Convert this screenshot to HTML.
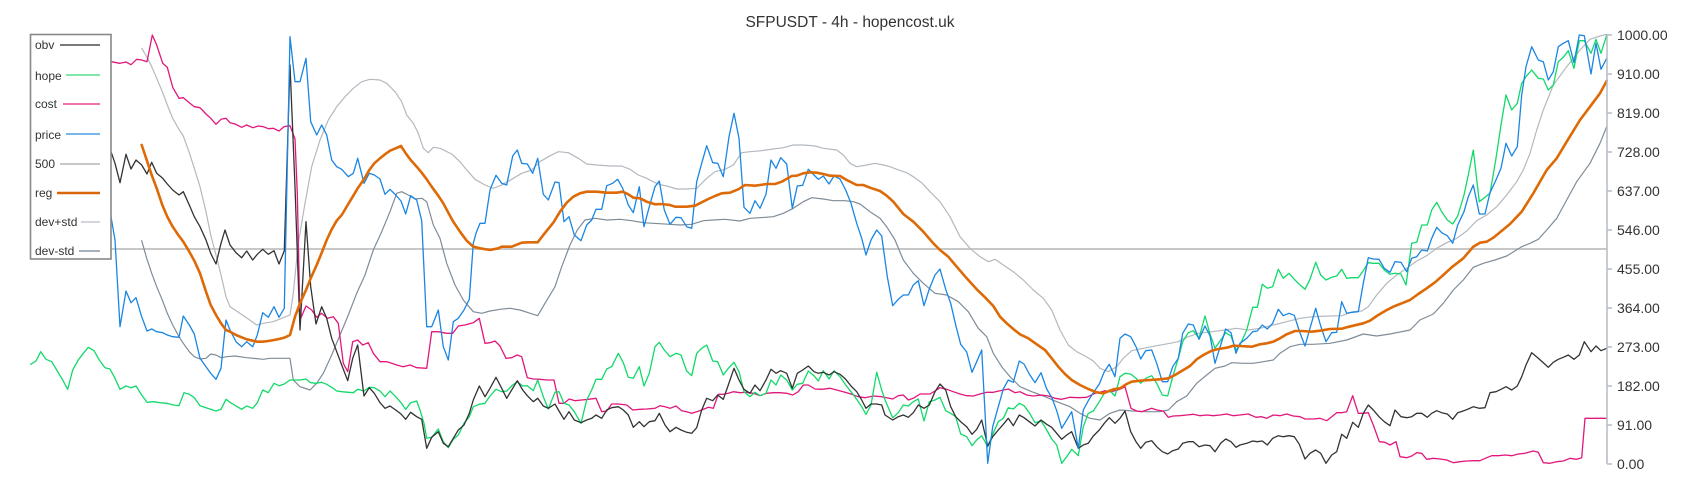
<!DOCTYPE html>
<html><head><meta charset="utf-8"><style>
html,body{margin:0;padding:0;background:#fff;}
svg{display:block;font-family:"Liberation Sans",Arial,sans-serif;}
</style></head><body>
<svg width="1700" height="500" viewBox="0 0 1700 500" xmlns="http://www.w3.org/2000/svg">
<rect width="1700" height="500" fill="#fff"/>
<text x="850" y="27" font-size="15.5" fill="#333" text-anchor="middle">SFPUSDT - 4h - hopencost.uk</text>

<!-- 500 line -->
<line x1="30" y1="249" x2="1607" y2="249" stroke="#c8c8c8" stroke-width="2"/>

<g fill="none" stroke-linejoin="round" stroke-linecap="round">
<!-- dev+std -->
<polyline stroke="#b3b9bf" stroke-width="1.2" points="141.7,48.3 146.7,56.7 151.7,66.7 156.7,78.3 162.3,91.7 167.3,105 172.7,118.3 178.3,128.3 183.3,136 189.3,152.7 194.3,168.3 200,186.7 206,211.7 210.7,235 216,255 221,275 226,296.7 230,306.7 235,310 245,316.7 256.7,325 263.3,323.3 273.3,321.7 281.7,318.3 290,315 293.3,293.3 298.3,243.3 305,203.3 311.7,166.7 320,140 328.3,120 336.7,106.7 345,96.7 353.3,88.3 361.7,81.7 370,79.3 380,80 386.7,83.3 395,91.7 401.7,101.7 406.7,115 413.3,123.3 418.3,133.3 423.3,148.3 428.3,152.7 433.3,147.3 440,148.3 451.7,154 460,161.7 466.7,170 475,179.3 485,185 493.3,188.3 501.7,185 511.7,179.3 521.7,173.3 531.7,170 540,161.7 548.3,156.7 558.3,151.7 568.3,152.7 578.3,158.3 586.7,164 596.7,165 610,166 621.7,166 630,169.3 638.3,175 646.7,178.3 655,182.7 661.7,185 666.7,186 676.7,189 686.7,189 696.7,188.3 706.7,178.3 715,171.7 725,169.3 733.3,165 741.7,152.7 750,151.7 761.7,150.7 773.3,149 783.3,147.7 793.3,145 803.3,145 815,146 823.3,148.3 836.7,150 843.3,155 850,163.3 856.7,166.7 866.7,165 875,163.3 883.3,165 890,166.7 896.7,169.3 906.7,172.7 913.3,176.7 921.7,182.7 930,191.7 940,201.7 950,216.7 960,236.7 970,248.3 980,256.7 988.3,261.7 995,259.3 1003.3,265 1013.3,271.7 1023.3,280 1033.3,290 1043.3,298.3 1051.7,310 1060,330 1068.3,345 1076.7,351.7 1085,356 1093.3,361 1100,368.3 1108.3,371.7 1116.7,366.7 1123.3,358.3 1131.7,350.7 1143.3,348.3 1156.7,345.7 1170,343.3 1178.3,341.7 1186.7,337.3 1198.3,333.3 1211.7,331.7 1225,330 1236.7,328.3 1248.3,330 1260,328.3 1273.3,325 1286.7,321.7 1300,318.3 1313.3,316.7 1330,316 1341.7,315.7 1353.3,311.7 1361.7,311 1368.3,306.7 1376.7,295 1386.7,283.3 1396.7,275 1406.7,268.3 1416.7,261 1426.7,255.7 1436.7,248.3 1446.7,242.7 1456.7,238.3 1466.7,231 1476.7,220.7 1486.7,215 1496.7,206.7 1506.7,195 1516.7,181.7 1523.3,170 1530,153.3 1536.7,130 1543.3,110 1553.3,85 1566.7,66.7 1580,50 1590,39.3 1600,36 1606.7,34.3"/>
<!-- dev-std -->
<polyline stroke="#7f8c98" stroke-width="1.2" points="141.7,240.7 146.7,258.3 151.7,273.3 156.7,286.7 162.3,300 167.3,313.3 172.7,325 179,336.7 183.3,343.3 189.3,351.7 194.3,356.7 200,359 206,358.3 210.7,354 216,355 221,357.7 226.7,356.7 235,356 246.7,357.7 263.3,359.3 270,358.3 290,358.3 293.3,380 300,386.7 310,390 316.7,383.3 323.3,373.3 331.7,355 340,335 348.3,315 356.7,293.3 365,275 373.3,250 381.7,231.7 390,211.7 396.7,193.3 401.7,191.7 408.3,195 415,199 421.7,198.3 426.7,201.7 433.3,225 440,238.3 446.7,263.3 455,285 463.3,300 473.3,311.7 481.7,313.3 490,311 500,309.3 510,308.3 520,310 528.3,312.7 537.7,315.7 545,303.3 555,286.7 561.7,266.7 570,245 577.3,230 585,220 595,218.3 606.7,220 620,219.3 631.7,220.7 643.3,222.7 653.3,223.3 670,224.3 680,225 691.7,224.3 703.3,220.7 713.3,220 725,219.3 740,221 750,218.3 760,217.7 773.3,216.7 783.3,213.3 793.3,208.3 803.3,201.7 811.7,197.7 823.3,199 833.3,200.7 845,200.7 853.3,201.7 860,204 870,211.7 880,218.3 886.7,226.7 895,240 903.3,260 913.3,273.3 923.3,283.3 935,293.3 946.7,295 958.3,301.7 968.3,311.7 978.3,328.3 986.7,336.7 993.3,353.3 1001.7,366.7 1010,376.7 1020,386.7 1031.7,391.7 1043.3,396 1056.7,401.7 1070,406.7 1080,413.3 1090,418.3 1100,420 1110,413.3 1120,410 1133.3,411 1146.7,411.7 1160,411.7 1168.3,410 1176.7,401.7 1186.7,396 1196.7,383.3 1206.7,375 1215,368.3 1225,366 1231.7,362.7 1243.3,363.3 1253.3,363.3 1263.3,361.7 1273.3,360 1280,353.3 1290,346.7 1300,344.3 1313.3,344.3 1330,343.3 1346.7,340 1363.3,334 1376.7,336 1390,334 1410,330 1420,320 1433.3,314 1443.3,303.3 1453.3,290 1463.3,280 1473.3,267.3 1483.3,263.3 1495,260 1506.7,256 1521.7,246.7 1530,243.3 1538.3,239.3 1546.7,230 1556.7,218.3 1566.7,200 1576.7,181.7 1590,163.3 1600,143.3 1606.7,126.7"/>
<!-- cost -->
<polyline stroke="#e2177c" stroke-width="1.3" points="100,62 111,61.7 120,63.3 126,62 131,64.7 136.7,59.3 141.7,60 147,61.7 152.3,35 156.7,45 162.7,63.3 167.3,67.3 172.7,87.3 179,98.3 183.3,97.7 189.3,102.7 194.3,106.7 200,107.7 206,114 210.7,118.3 216,124.3 221,119.3 226,118.3 230,122.7 235,124 241.7,127.3 246.7,125 252.7,127.7 258.3,126 263.3,126.7 268.3,128.7 273.3,128.3 279,131 284,126.7 290,125.7 295,139 297.3,193.3 300,320 306,306 311.7,310 316.7,317.3 321.7,313.3 327.3,318.3 333.3,316.7 338.3,323.3 343.3,363.3 347.7,371.7 352.7,341.7 357.7,340 362.7,345 368.3,342.7 373.3,353.3 380,361.7 386.7,361.7 391.7,363.3 396.7,365 403.3,366.7 410,365 416.7,367.7 426.7,368.3 431.7,331.7 438.3,331.7 446.7,333.3 452.7,333.3 458.3,326 465,325 473.3,322.7 479.3,318.3 485,343.3 490,342.7 495,341 500,346 506,358.3 511.7,357.7 517.3,355 521.7,356.7 527.3,377.7 533.3,379 540,379.3 546.7,380 554,380 559,403.3 564,403.3 569.3,399 575,400.7 581.7,400 588.3,399.3 596,398.3 601.7,411.7 606.7,411 611.7,404 618.3,404 626.7,405 632.7,410 640,409.3 646.7,409 655,408.3 660,405.7 665,406.7 670,408.3 676,406 681.7,410.7 686.7,411.7 691.7,413.3 696.7,411.7 701.7,410 708.3,407.3 713.3,408.3 718.3,394.3 723.3,394.3 728.3,393.3 733.3,391.7 740,392.7 746.7,392.3 753.3,393.3 760,395.7 766.7,393.3 773.3,392.7 780,392.7 786.7,393.3 792.7,395 798.3,391.7 803.3,385 808.3,385 815,389 821.7,389.3 830,388.3 836.7,390 843.3,391.7 851.7,394.3 858.3,396.7 865,397.7 873.3,396 881.7,396.7 886.7,397.7 892.7,399 898.3,395.7 903.3,395 908.3,400 913.3,398.3 920,394 930,394 935,391 940,387.7 946.7,389.3 953.3,391.7 960,394 966.7,395.7 973.3,396 980,394 986.7,392.3 993.3,392.3 1000,390.7 1008.3,389 1015,392.7 1020,391.7 1026.7,395 1033.3,396 1041.7,395 1048.3,396 1055,398.3 1061.7,399.3 1070,397.3 1078.3,397.7 1086.7,397.3 1095,393.3 1101.7,391.7 1105,390.7 1110,391.7 1115,390.7 1120,389.3 1125,386.7 1131,408.3 1136.7,411 1141.7,411.7 1146.7,410 1151.7,408.3 1156.7,410 1163.3,411 1168.3,417.3 1173.3,416 1180,415.7 1186.7,415 1193.3,414.3 1200,415.7 1206.7,415 1213.3,415.7 1220,415 1226.7,414 1233.3,415.7 1240,415 1248.3,414 1256,417.3 1261.7,416.7 1266.7,418.3 1273.3,415 1280,415.7 1286.7,414 1293.3,416 1300,416.7 1305,419 1313.3,419 1320,418.3 1326.7,420.7 1331.7,416.7 1336.7,412.7 1341.7,412.7 1346.7,411.7 1352.7,395.7 1358.3,413.3 1363.3,413.3 1368.3,412.7 1373.3,425 1379.3,441.7 1385,442.3 1390,445 1396,441.7 1400,456.7 1406.7,457.7 1411.7,456 1416.7,452.7 1421.7,453.3 1426.7,459.3 1433.3,458.3 1440,459 1446.7,460 1453.3,462.7 1460,461.7 1466.7,461 1473.3,460.7 1480,460.7 1486.7,457.7 1491.7,455.7 1498.3,455.7 1505,455 1511.7,455.7 1518.3,454 1525,453.3 1533.3,451 1538.3,452.3 1543.3,462.7 1550,463.3 1556.7,461.7 1563.3,461 1570,458.3 1576.7,459.3 1581.7,457.7 1585,418.3 1606.7,418.3"/>
<!-- hope -->
<polyline stroke="#12d96a" stroke-width="1.3" points="30.7,364.3 36,361 40.7,351.7 46,359.3 51.7,361.7 56.7,370 62.3,379.3 67.7,389.3 72.7,370 78.3,360 83.3,353.3 88.3,347.3 94,350.7 99.3,360 105,367.7 110,369 115,378.3 120,389.3 126,386 131,387.7 136,386 141.7,395 147,402.3 153.3,401.7 160,402.7 166.7,403.3 173.3,405 179,405.7 184,392.7 189.3,394.3 194.3,397.7 200,405.7 206,407.7 210.7,409.3 216,411 221,409.3 226,399.3 230,402.3 236,406 241.7,409.3 246.7,406 252.7,408.3 257.3,402.7 262.7,390 268.3,392.7 274,383.3 279,385.7 284.3,384 290,380 295,380 300,380 306,379 310.7,382.7 316.7,383.3 321.7,382.3 326.7,384.3 331.7,387.3 336.7,391 341.7,391.7 348.3,392.3 353.3,392.7 357.7,389.3 364,391 369.3,387.3 374.3,387.7 380,391 385,396.7 390,391 395.7,396.7 401,402.7 405.7,409.3 410.7,402.7 416.7,401 420,410 424,423.3 426.7,438.3 431.7,437.3 438.3,429 443.3,441.7 448.3,447.7 453.3,439.3 458.3,435 464,423.3 469.3,416.7 473.3,406.7 479.3,404.3 485,403.3 490,396 496,389.3 501.7,391.7 506.7,391 512.7,385 517.3,381.7 522.7,386 527.3,385.7 533.3,390.7 537.7,380 543.3,396.7 548.3,409 555,392.3 559,391.7 564,403.3 569,405 574.3,411.7 581,423.3 586.7,400 591.7,390 596,379.3 601.7,379.3 606.7,369 611.7,366.7 618.3,353.3 623.3,362.7 628.3,377.3 633.3,378.3 639.3,366.7 644,386 649.3,373.3 655,346.7 659.3,342.3 664.3,350 670,356.7 676,353.3 681,355 686.7,371 691.7,375.7 696.7,353.3 701.7,348.3 706.7,345 712.7,361 717.7,361.7 723.3,375 728.3,368.3 734,362.3 739,371.7 744,391.7 750,396.7 755,392.3 760,395.7 766,393.3 771,380 776,385 780.7,375 786.7,380 792.3,390 797.3,384.3 802.7,383.3 808.3,371 814,375.7 818.3,381 823.3,370.7 829,379 834,370.7 840,376.7 845.7,385 851,391.7 856.7,399.3 861.7,406.7 866,414.3 871,405 876.7,372.3 881.7,390 885,400 892.7,417.7 898.3,412.7 903.3,405 908.3,406 913.3,401.7 918.3,399 924,421 929.3,401.7 935,400 940,397.3 945.7,410.7 950.7,413.3 955.7,416.7 960.7,434 966.7,436.7 972,445.7 976.7,440 981.7,435.7 987.7,446.7 992.7,434.3 998.3,421.7 1003.3,418.3 1008.3,407.7 1013.3,409 1019.3,403.3 1024,405.7 1029.3,412.7 1035,422.7 1041,420.7 1046.7,430 1051.7,439 1056.7,445 1061.7,463.3 1066.7,456.7 1071.7,449.3 1078.3,455.7 1083.3,426.7 1088.3,413.3 1093.3,411 1099.3,401.7 1104.3,393.3 1109.3,390 1115,396 1120,376.7 1125,373.3 1130.7,374 1136,378.3 1140.7,383.3 1145.7,378.3 1151.7,375.7 1156.7,383.3 1162.3,395 1167.7,396 1172.7,376.7 1178.3,358.3 1182.7,341.7 1188.3,332.7 1193.3,330.7 1199,338.3 1205,316 1210,334 1215,348.3 1220.7,340 1225.7,332.7 1231,336 1236,350 1240,345 1246.7,330 1252.7,307.3 1257.3,307.3 1262.3,284.3 1267.3,288.3 1272.7,286.7 1278.3,269.3 1283.3,278.3 1289,273.3 1294.3,279.3 1300,285 1305,289.3 1310,279.3 1315.7,262.3 1320.7,275 1326,280 1331.7,277.3 1336.7,276 1341.7,269.3 1346.7,278.3 1351.7,277.7 1358.3,277.7 1363.3,270.7 1368.3,262.7 1373.3,263.3 1379,263.3 1384.3,270 1390,274.3 1395,273.3 1401,274 1406,285 1411.7,243.3 1416.7,242.3 1421.7,225 1427.3,225 1431.7,210 1436.7,202.3 1441.7,211.7 1447.3,220 1452.7,224 1457.7,216 1464,195 1468.3,175 1473.3,150 1479.3,201.7 1485,197.3 1490,193.3 1496,158.3 1501,125 1506,95 1511.7,110 1517.3,103.3 1521.7,83.3 1526,76.7 1531.7,70 1538.3,78.3 1543.3,79 1548.3,90 1553.3,85 1558.3,61.7 1563.3,57.3 1568.3,50.7 1574,68.3 1579.3,40.7 1584.3,40.7 1591,53.3 1596,39.3 1601,53.3 1606.7,35"/>
<!-- obv -->
<polyline stroke="#333" stroke-width="1.3" points="100,140 108,145 111,151.7 115,163.3 120,182.7 126,154.3 131,169 136,160 141.7,165 147,174 151.7,162.3 156.7,173.3 162.7,178.3 167.3,184 172.7,190 179,195 183.3,191.7 189.3,205 194.3,216.7 200,226.7 206,240 210.7,253.3 216,264 221,243.3 225,230 230,245 236,252.7 241.7,257.7 246.7,251 252.7,260 257.3,254.3 262.7,249.3 268.3,254.3 274,250.7 279,264 284.3,250.7 290,65 295,186.7 300,330 306,221.7 310.7,286.7 316,324 321.7,306.7 326.7,318.3 331.7,338.3 336.7,351.7 341.7,365 347.7,380.7 352.7,358.3 357.7,345 364,396 369.3,387.7 374.3,393.3 380,402.7 385,408.3 390,406 395.7,410 401,414 405.7,419.3 410.7,412.3 416.7,416.7 421.7,419.3 426.7,448.3 431.7,437.3 438.3,431.7 443.3,443.3 448.3,446.7 453.3,438.3 458.3,430 464,425 469.3,413.3 473.3,400 479.3,386 485,396.7 490,388.3 496,377.3 501.7,388.3 506.7,398.3 512.7,388.3 517.3,380.7 522.7,390 527.3,395.7 533.3,401.7 537.7,398.3 543.3,406 548.3,408.3 555,404 559,411 564,419.3 569,411.7 574.3,420 581,422.7 586.7,420 591.7,418.3 596,415 601.7,418.3 606.7,410 611.7,407.7 618.3,406.7 623.3,410 628.3,415 633.3,427.3 639.3,421.7 644,426.7 649.3,421.7 655,420.7 659.3,413.3 665,425 670,431.7 676,427.3 681,430 686.7,432.3 691.7,433.3 696.7,427.7 701.7,410 706.7,398.3 712.7,400.7 717.7,395 723.3,399.3 728.3,385 734,368.3 739,380 744,389.3 750,393.3 755,385 760,390.7 766,380 771,369.3 776,373.3 780.7,370.7 786.7,373.3 792.3,388.3 797.3,373.3 802.7,370 808.3,366 814,371.7 818.3,373.3 823.3,372.3 829,375 834,371.7 840,374.3 845.7,379.3 851,386 856.7,391.7 861.7,400 866,408.3 871,404 876.7,404 881.7,405 885,415 892.7,420 898.3,416.7 903.3,415 908.3,417.3 913.3,412.7 918.3,405 924,408.3 929.3,405 935,391.7 940,384 945.7,390 950.7,406.7 955.7,416.7 960.7,421.7 966.7,426.7 972,434.3 976.7,429.3 981.7,420 987.7,446 992.7,436.7 998.3,430 1003.3,424.3 1008.3,418.3 1013.3,425.7 1019.3,415 1024,417.7 1029.3,421.7 1035,426 1041,420 1046.7,424.3 1051.7,427.3 1056.7,433.3 1061.7,439.3 1066.7,435 1071.7,431.7 1078.3,448.3 1083.3,445 1088.3,443.3 1093.3,436 1099.3,430 1104.3,423.3 1109.3,417.7 1115,423.3 1120,418.3 1125,411 1130.7,431.7 1136,441.7 1140.7,448.3 1145.7,442.3 1151.7,440.7 1156.7,446.7 1162.3,451.7 1167.7,454 1172.7,450.7 1178.3,449 1182.7,443.3 1188.3,441.7 1193.3,441.7 1199,446.7 1205,445 1210,445.7 1215,451.7 1220.7,443.3 1225.7,439 1231,441.7 1236,447.3 1240,445 1246.7,443.3 1252.7,441 1257.3,441.7 1262.3,441 1267.3,445 1272.7,438.3 1278.3,435.7 1283.3,436.7 1289,435.7 1294.3,436.7 1299.3,444.3 1305,459 1310,453.3 1315.7,450 1320.7,453.3 1326,463.3 1331.7,455 1336.7,451.7 1341.7,434.3 1346.7,438.3 1352.7,422.3 1358.3,427.3 1363.3,413.3 1368.3,405 1373.3,410 1379,416.7 1384.3,421.7 1390,425.7 1395,410 1401,416.7 1406.7,417.7 1411.7,416.7 1416.7,413.3 1421.7,413.3 1427.3,417.3 1431.7,413.3 1436.7,410.7 1441.7,412.7 1447.3,414 1452.7,419.3 1457.7,412.7 1464,410.7 1468.3,409 1473.3,406.7 1479.3,408.3 1485,407.7 1490,392.7 1496,391.7 1501,389.3 1506,386.7 1511.7,390 1517.3,386 1521.7,376.7 1526,365 1531.7,352.7 1538.3,358.3 1543.3,362.7 1548.3,367.3 1553.3,362.3 1558.3,359.3 1563.3,357.3 1568.3,355 1574,359.3 1579.3,355 1584.3,341.7 1591,351.7 1596,346 1601,350.7 1606.7,348.3"/>
<!-- price -->
<polyline stroke="#1a86e3" stroke-width="1.3" points="100,180 106,195 111,216.7 115,240 120,326.7 126,291 131,302.7 136,297.7 141.7,316.7 147,331 151.7,329 156.7,331.7 162.7,332.7 167.3,335 172.7,336.7 179,337.3 183.3,316 189.3,325 194.3,334 200,358.3 206,366.7 210.7,373.3 216,379.3 221,368.3 226,320 230,330 236,341.7 241.7,346.7 246.7,341.7 252.7,346.7 257.3,335 262.7,312.7 268.3,317.3 274,306.7 279,317.3 284.3,308.3 290,36.7 295,81.7 300,81.7 306,58.3 310.7,121.7 316.7,135 321.7,125 326.7,135 331.7,160 336.7,166.7 341.7,169.3 348.3,176.7 353.3,173.3 357.7,158.3 364,183.3 369.3,173.3 374.3,175 380,179 385,194.3 390,189.3 395.7,195 401,201 405.7,214 410.7,195.7 416.7,200 421.7,220.7 426.7,326.7 431.7,326.7 438.3,310 443.3,346.7 448.3,360 453.3,321.7 458.3,318.3 464,310 469.3,299.3 473.3,243.3 476,233.3 480,223.3 485,223.3 490,190 496,175.3 501.7,183.3 506.7,185 512.7,156 517.3,150 521.7,163.3 527.3,164 532.7,173.3 537.7,158.3 543.3,194.3 548.3,200 555,182 559,182.7 564,221.7 569,216.7 574.3,235 581,240.7 586.7,225 591.7,220 596,209.3 601.7,209.3 606.7,185.7 612.7,183.3 617.7,179.3 622.7,188.3 628.3,205 633.3,212.7 639.3,186.7 644,226.7 649.3,206.7 655,186.7 659.3,181 664.3,210 670,224.3 676,217.3 681,217.7 686.7,226.7 691.7,228.3 696.7,181.7 701.7,163.3 706.7,145.7 712.7,162.7 717.7,163.3 723.3,176.7 729,136.7 734,113.3 739,138.3 744,207.3 750,213.3 755,200.7 760,208.3 766,194.3 771,160 776,168.3 780.7,157.7 786.7,164 792.3,208.3 797.3,186 802.7,185.3 808.3,169.3 814,175 818.3,179.3 823.3,176 829,184 834,176 840,179 845.7,190 851,203.3 856.7,223.3 861.7,238.3 866,255 871,240 876.7,230 881.7,236 887.3,276.7 892.7,305.7 898.3,299.3 903.3,295 908.3,295 913.3,285 918.3,280.7 924,305.7 929.3,289 935,275 940,269 945.7,289.3 950.7,303.3 955.7,325 960.7,344.3 966.7,352 972,372.3 976.7,361.7 981.7,350 987.7,463.3 992.7,426.7 998.3,406.7 1003.3,389 1008.3,380 1013.3,382.3 1019.3,361 1024,364 1029.3,374 1035,382.7 1041,372.7 1046.7,389 1051.7,397.3 1056.7,410.7 1061.7,428.3 1066.7,420 1071.7,411.7 1078.3,448.3 1083.3,410 1088.3,400.7 1093.3,392.7 1099.3,384 1104.3,371.7 1109.3,364.3 1115,376.7 1120,338.3 1125,334 1130.7,336.7 1136,346.7 1140.7,359 1145.7,350.7 1151.7,350 1156.7,363.3 1162.3,381.7 1167.7,381.7 1172.7,366.7 1178.3,358.3 1182.7,333.3 1188.3,324 1193.3,325 1199,339.3 1205,326 1210,335.7 1215,363.3 1220.7,345 1225.7,329 1231,332.7 1236,353.3 1240,343.3 1246.7,338.3 1252.7,331.7 1257.3,331 1262.3,325 1267.3,329 1272.7,323.3 1278.3,309.3 1283.3,315.7 1289,313.3 1294.3,315.3 1299.3,331 1305,346 1310,328.3 1315.7,308.3 1320.7,326 1326,341.7 1331.7,332.7 1336.7,332.3 1341.7,301.7 1346.7,313.3 1351.7,312.3 1358.3,311.7 1363.3,283.3 1368.3,257.7 1373.3,259 1379,259.3 1384.3,268.3 1390,272.3 1395,261.7 1401,262.3 1406.7,271.7 1411.7,258.3 1416.7,256.7 1421.7,250 1427.3,251 1431.7,238.3 1436.7,227.3 1441.7,232.7 1447.3,235.7 1452.7,243.3 1457.7,225 1464,211.7 1468.3,196.7 1473.3,185 1479.3,214 1485,214 1490,192.7 1496,180 1501,168.3 1506,143.3 1511.7,156 1517.3,146.7 1521.7,95 1526,66.7 1531.7,46.7 1538.3,60 1543.3,61.7 1548.3,80 1553.3,71.7 1558.3,46.7 1563.3,43.3 1568.3,40.7 1574,62.7 1579.3,35 1584.3,35.7 1591,74 1596,43.3 1601,69.3 1606.7,58.3"/>
<!-- reg -->
<polyline stroke="#dd6a06" stroke-width="2.6" points="141.7,145 146.7,160 151.7,175 156.7,188.3 162.3,205 167.3,216.7 172.7,226.7 178.3,235 183.3,241.7 189.3,251.7 194.3,260.7 200,273.3 206,291.7 210.7,305 216,315 221,323.3 226,330 230,331.7 236,335 241.7,337.3 246.7,339.3 252.7,340.7 257.3,341.7 262.7,341.7 268.3,341 274,340 279,339 284.3,337.7 290,335 295,316.7 300,303.3 306,290 310.7,278.3 316.7,265 321.7,252.7 326.7,240 331.7,229.3 336.7,220.7 341.7,215 347.7,205 352.7,196.7 357.7,188.3 364,179.3 369.3,170 374.3,163.3 380,158.3 385,154.3 390,150.7 395.7,148.3 401,146 405.7,153.3 410.7,160 416.7,166.7 421.7,172.7 426.7,179.3 431.7,186.7 438.3,195.7 443.3,203.3 448.3,212.7 453.3,221.7 460,231.7 466.7,240.7 473.3,246.7 480,248.3 490,250 498.3,248.3 501.7,246.7 511.7,246.7 521.7,242.7 528.3,242.3 537.7,242.3 543.3,235 553.3,222.7 560,211.7 566.7,202.7 573.3,196.7 580,193.3 586.7,191.7 596.7,191.7 606.7,192.7 616.7,192.7 622.7,191.7 628.3,194.3 633.3,197.7 640,198.3 646.7,201.7 655,204.3 661.7,204 670,205 675,206.7 686.7,206.7 695,205.7 701.7,202.3 708.3,199 715,196 721.7,193.3 730,192.7 738.3,189.3 745,185 755,185.7 760,185 766.7,184 775,184 781.7,181.7 791.7,176 796.7,175.7 803.3,173.3 810,172.3 816.7,172.7 823.3,174 830,175.7 840,176 846.7,180 856.7,185 863.3,185 870,187.7 880,191 886.7,195.7 893.3,201.7 903.3,214 913.3,221.7 923.3,231.7 933.3,243.3 940,250 948.3,256.7 956.7,266.7 966.7,278.3 976.7,289.3 985,297.3 993.3,306 1000,316.7 1006.7,323.3 1013.3,329 1020,334.3 1028.3,338.3 1036.7,344.3 1045,350 1051.7,358.3 1058.3,366.7 1065,374 1071.7,380 1080,385 1088.3,389 1096.7,392.3 1103.3,393.3 1110,390.7 1113.3,389.3 1120,388.3 1126.7,384 1131.7,381.7 1140,380.7 1150,380 1160,379.3 1168.3,378.3 1175,375 1183.3,370 1190,366 1196.7,359.3 1203.3,355 1211.7,350.7 1218.3,349 1226.7,347.7 1233.3,345.7 1240,346 1251.7,346.7 1260,344.3 1266.7,343.3 1273.3,341.7 1280,338.3 1286.7,334.3 1295,331 1301.7,331 1311.7,331.7 1320,330.7 1330,329 1341.7,328.7 1346.7,327.3 1353.3,325.7 1363.3,323.3 1370,320.7 1376.7,316 1385,311 1393.3,306.7 1401.7,303.3 1410,300 1418.3,294 1426.7,288.3 1435,282.3 1443.3,275 1451.7,267.3 1463.3,258.3 1473.3,246.7 1480,242.7 1486.7,241.7 1493.3,237.7 1500,232.3 1510,224 1521.7,211.7 1533.3,193.3 1546.7,170 1556.7,158.3 1566.7,141.7 1580,120 1590,106.7 1600,93.3 1606.7,81"/>
</g>

<!-- right axis -->
<g stroke="#b4bcc4" stroke-width="1.5" fill="none">
<line x1="1607" y1="35" x2="1607" y2="464"/>
<line x1="1607" y1="35" x2="1612" y2="35"/>
<line x1="1607" y1="74" x2="1612" y2="74"/>
<line x1="1607" y1="113" x2="1612" y2="113"/>
<line x1="1607" y1="152" x2="1612" y2="152"/>
<line x1="1607" y1="191" x2="1612" y2="191"/>
<line x1="1607" y1="230" x2="1612" y2="230"/>
<line x1="1607" y1="269" x2="1612" y2="269"/>
<line x1="1607" y1="308" x2="1612" y2="308"/>
<line x1="1607" y1="347" x2="1612" y2="347"/>
<line x1="1607" y1="386" x2="1612" y2="386"/>
<line x1="1607" y1="425" x2="1612" y2="425"/>
<line x1="1607" y1="464" x2="1612" y2="464"/>
</g>
<g font-size="14" fill="#333" dominant-baseline="central">
<text x="1617" y="35">1000.00</text>
<text x="1617" y="74">910.00</text>
<text x="1617" y="113">819.00</text>
<text x="1617" y="152">728.00</text>
<text x="1617" y="191">637.00</text>
<text x="1617" y="230">546.00</text>
<text x="1617" y="269">455.00</text>
<text x="1617" y="308">364.00</text>
<text x="1617" y="347">273.00</text>
<text x="1617" y="386">182.00</text>
<text x="1617" y="425">91.00</text>
<text x="1617" y="464">0.00</text>
</g>

<!-- legend -->
<rect x="30.5" y="34.5" width="80.5" height="224.5" fill="#fff" stroke="#888" stroke-width="1.6"/>
<g font-size="12" fill="#333" dominant-baseline="central">
<text x="35" y="45">obv</text>
<text x="35" y="76">hope</text>
<text x="35" y="104">cost</text>
<text x="35" y="135">price</text>
<text x="35" y="164">500</text>
<text x="35" y="193">reg</text>
<text x="35" y="222">dev+std</text>
<text x="35" y="251">dev-std</text>
</g>
<g stroke-width="2" fill="none">
<line x1="60" y1="45" x2="100" y2="45" stroke="#7a7a7a"/>
<line x1="66" y1="75" x2="100" y2="75" stroke="#7fe8a8"/>
<line x1="63" y1="104" x2="100" y2="104" stroke="#ee72ae"/>
<line x1="66" y1="134" x2="100" y2="134" stroke="#78b6ee"/>
<line x1="60" y1="164" x2="100" y2="164" stroke="#c8c8c8"/>
<line x1="57" y1="193" x2="100" y2="193" stroke="#d9670a" stroke-width="2.4"/>
<line x1="81" y1="222" x2="100" y2="222" stroke="#d2d6da"/>
<line x1="79" y1="251" x2="100" y2="251" stroke="#a6b0ba"/>
</g>
</svg>
</body></html>
